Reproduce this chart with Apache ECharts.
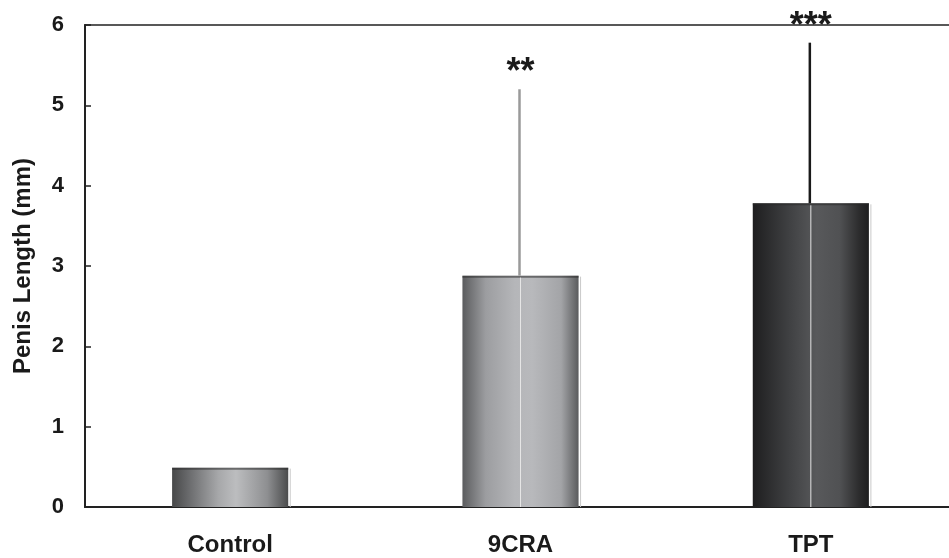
<!DOCTYPE html>
<html>
<head>
<meta charset="utf-8">
<script src="https://cdn.jsdelivr.net/npm/echarts@6/dist/echarts.min.js"></script>
<style>html,body{margin:0;padding:0;background:#fff}#c{width:949px;height:558px}</style>
</head>
<body>
<div id="c"></div>
<script>
const categories = ['Control', '9CRA', 'TPT'];
const values = [0.49, 2.88, 3.78];
const errors = [0, 2.32, 2.0];
const significance = ['', '**', '***'];
const yTicks = [0, 1, 2, 3, 4, 5, 6];

const gradients = [
  [['#474849',0],['#6b6c6e',0.15],['#a7a8aa',0.4],['#bcbdbf',0.55],['#8e8f91',0.82],['#4a4b4c',1]],
  [['#5b5c5e',0],['#9c9da0',0.2],['#b5b6b9',0.45],['#b8b9bc',0.6],['#a3a4a7',0.85],['#5a5b5d',1]],
  [['#1e1e1f',0],['#3e3f41',0.3],['#58595b',0.55],['#505153',0.75],['#2b2b2c',0.92],['#1e1e1f',1]]
];
const errColors = ['#999', '#9a9a9a', '#1a1a1a'];

function grad(stops){
  return new echarts.graphic.LinearGradient(0,0,1,0, stops.map(s=>({offset:s[1], color:s[0]})));
}

const chart = echarts.init(document.getElementById('c'), null, {renderer:'canvas'});
const font = '"Liberation Sans", Arial, sans-serif';

chart.setOption({
  animation: false,
  grid: {left: 85, top: 25, width: 871, height: 482, containLabel: false, outerBoundsMode: 'none',
    show: true, borderColor: '#222', borderWidth: 1.5, backgroundColor: 'transparent'},
  xAxis: {
    type: 'category', data: categories,
    axisLine: {lineStyle: {color: '#222', width: 2}},
    axisTick: {inside: true, length: 8, lineStyle: {color: '#222', width: 2}},
    axisLabel: {fontFamily: font, fontWeight: 'bold', fontSize: 24, color: '#1a1a1a', margin: 26}
  },
  yAxis: {
    type: 'value', min: 0, max: 6, interval: 1,
    name: 'Penis Length (mm)', nameLocation: 'middle', nameGap: 50, nameRotate: 90,
    nameTextStyle: {fontFamily: font, fontWeight: 'bold', fontSize: 24, color: '#1a1a1a'},
    axisLine: {show: true, lineStyle: {color: '#222', width: 2}},
    axisTick: {show: true, inside: true, length: 6, lineStyle: {color: '#222', width: 1.5}},
    splitLine: {show: false},
    axisLabel: {fontFamily: font, fontWeight: 'bold', fontSize: 22, color: '#1a1a1a', margin: 21,
      formatter: v => yTicks.includes(v) ? String(v) : ''}
  },
  series: [
    {
      type: 'bar', barWidth: '40%',
      data: values.map((v,i)=>({value: v, itemStyle: {color: grad(gradients[i])}})),
      z: 2
    },
    {
      type: 'custom', z: 3,
      data: values.map((v,i)=>[i, v, errors[i]]),
      renderItem: function(params, api){
        const i = api.value(0), v = api.value(1), e = api.value(2);
        const base = api.coord([i, v]);
        const zero = api.coord([i, 0]);
        const bw = api.size([1, 0])[0] * 0.4;
        const children = [];
        const x = base[0];
        children.push({type:'line', shape:{x1: x + bw/2 + 2, y1: base[1]+1, x2: x + bw/2 + 2, y2: zero[1]}, style:{stroke:'#c9c9c9', lineWidth:1}});
        children.push({type:'line', shape:{x1: x - bw/2, y1: base[1]+1, x2: x + bw/2, y2: base[1]+1}, style:{stroke:'rgba(40,40,40,0.55)', lineWidth:2}});
        if (i > 0) {
          children.push({type:'line', shape:{x1: x, y1: base[1]+2, x2: x, y2: zero[1]}, style:{stroke:'#e6e6e6', lineWidth:1}});
        }
        if (e > 0) {
          const top = api.coord([i, v + e]);
          children.push({type:'line', shape:{x1: x - 1, y1: top[1], x2: x - 1, y2: base[1]}, style:{stroke: errColors[i], lineWidth: 2.5}});
          children.push({type:'text', style:{text: significance[i], x: x, y: top[1] + 2, textAlign:'center', textVerticalAlign:'bottom', font: 'bold 36px ' + font, fill:'#1a1a1a'}});
        }
        return {type:'group', children: children};
      }
    }
  ]
});
</script>
</body>
</html>
